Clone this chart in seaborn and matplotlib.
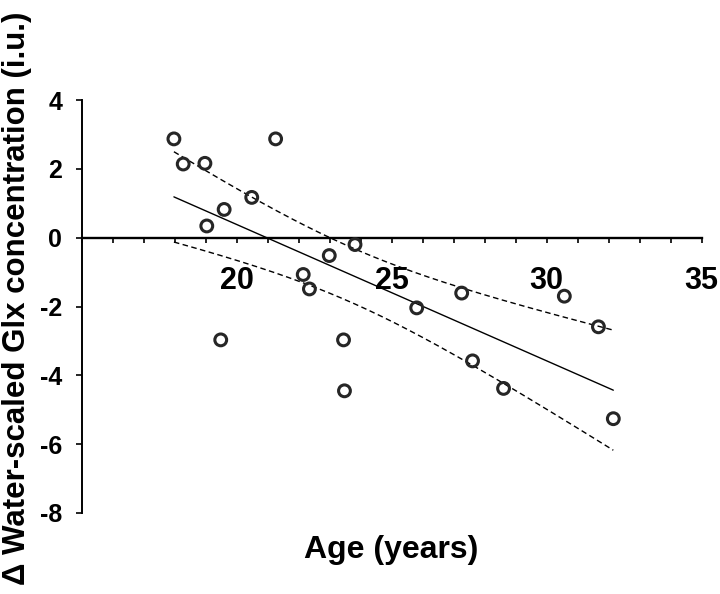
import numpy as np
import pandas as pd
import matplotlib
matplotlib.use("Agg")
import matplotlib.pyplot as plt
from matplotlib.ticker import FixedLocator, MultipleLocator
import seaborn as sns

# Data
age = [17.98, 18.28, 18.98, 21.26, 20.49, 19.60, 19.04, 23.82, 22.99, 22.15, 22.35,
       25.81, 19.49, 23.45, 23.48, 27.26, 30.57, 31.67, 27.61, 28.61, 32.15]
glx = [2.87, 2.14, 2.16, 2.87, 1.17, 0.82, 0.34, -0.20, -0.52, -1.07, -1.49,
       -2.04, -2.97, -2.97, -4.45, -1.61, -1.70, -2.59, -3.58, -4.38, -5.26]
x_tick_values = [20, 25, 30, 35]
x_tick_labels = ["20", "25", "30", "35"]
y_tick_values = [-8, -6, -4, -2, 0, 2, 4]
y_tick_labels = ["-8", "-6", "-4", "-2", "0", "2", "4"]
x_label = "Age (years)"
y_label = "\u0394 Water-scaled Glx concentration (i.u.)"

sns.set_style("white")
plt.rcParams["font.family"] = ["Liberation Sans", "DejaVu Sans"]
plt.rcParams["font.weight"] = "bold"

df = pd.DataFrame({"age": age, "glx": glx})

# Linear fit and 95% confidence band of the mean
xa = np.asarray(age)
ya = np.asarray(glx)
n = len(xa)
slope, intercept = np.polyfit(xa, ya, 1)
resid = ya - (slope * xa + intercept)
s = np.sqrt(np.sum(resid ** 2) / (n - 2))
t_crit = 2.093  # t(0.975, df=19)
xs = np.linspace(xa.min(), xa.max(), 200)
fit = slope * xs + intercept
se = s * np.sqrt(1.0 / n + (xs - xa.mean()) ** 2 / np.sum((xa - xa.mean()) ** 2))
fit_df = pd.DataFrame({"x": xs, "fit": fit, "lo": fit - t_crit * se, "hi": fit + t_crit * se})

fig = plt.figure(figsize=(7.2, 5.94), dpi=100)
ax = fig.add_axes([81.5 / 720, 1 - 513 / 594, (701.7 - 81.5) / 720, 413 / 594])

sns.lineplot(data=fit_df, x="x", y="fit", ax=ax, color="black", linewidth=1.0)
sns.lineplot(data=fit_df, x="x", y="hi", ax=ax, color="black", linewidth=1.0,
             linestyle=(0, (4, 2.5)))
sns.lineplot(data=fit_df, x="x", y="lo", ax=ax, color="black", linewidth=1.0,
             linestyle=(0, (4, 2.5)))
sns.scatterplot(data=df, x="age", y="glx", ax=ax, marker="o", s=72,
                facecolor="none", edgecolor="#262626", linewidth=2.2, zorder=5)

ax.set_xlim(15, 35)
ax.set_ylim(-8, 4)

for side in ["top", "right"]:
    ax.spines[side].set_visible(False)
ax.spines["bottom"].set_position(("data", 0))
ax.spines["bottom"].set_linewidth(1.7)
ax.spines["left"].set_linewidth(1.4)
ax.spines["bottom"].set_color("black")
ax.spines["left"].set_color("black")

ax.xaxis.set_major_locator(FixedLocator(x_tick_values))
ax.set_xticklabels(x_tick_labels)
ax.xaxis.set_minor_locator(MultipleLocator(1))
ax.yaxis.set_major_locator(FixedLocator(y_tick_values))
ax.set_yticklabels(y_tick_labels)

ax.tick_params(axis="x", which="both", direction="out", length=3.5, width=1.2,
               color="black", bottom=True)
ax.tick_params(axis="x", which="major", labelsize=22, pad=17)
ax.tick_params(axis="y", which="major", direction="out", length=4, width=1.2,
               color="black", labelsize=18, pad=10, left=True)
for lab in ax.get_xticklabels() + ax.get_yticklabels():
    lab.set_fontweight("bold")
    lab.set_color("black")

ax.set_xlabel(x_label, fontsize=23, fontweight="bold", color="black")
ax.set_ylabel(y_label, fontsize=22.5, fontweight="bold", color="black")
ax.xaxis.set_label_coords(0.5, -0.09)
ax.xaxis.label.set_va("center")
ax.yaxis.set_label_coords(-0.104, 0.52)
ax.yaxis.label.set_va("center")
ax.yaxis.label.set_ha("center")

ax.grid(False)
fig.savefig("out.png", dpi=100)
